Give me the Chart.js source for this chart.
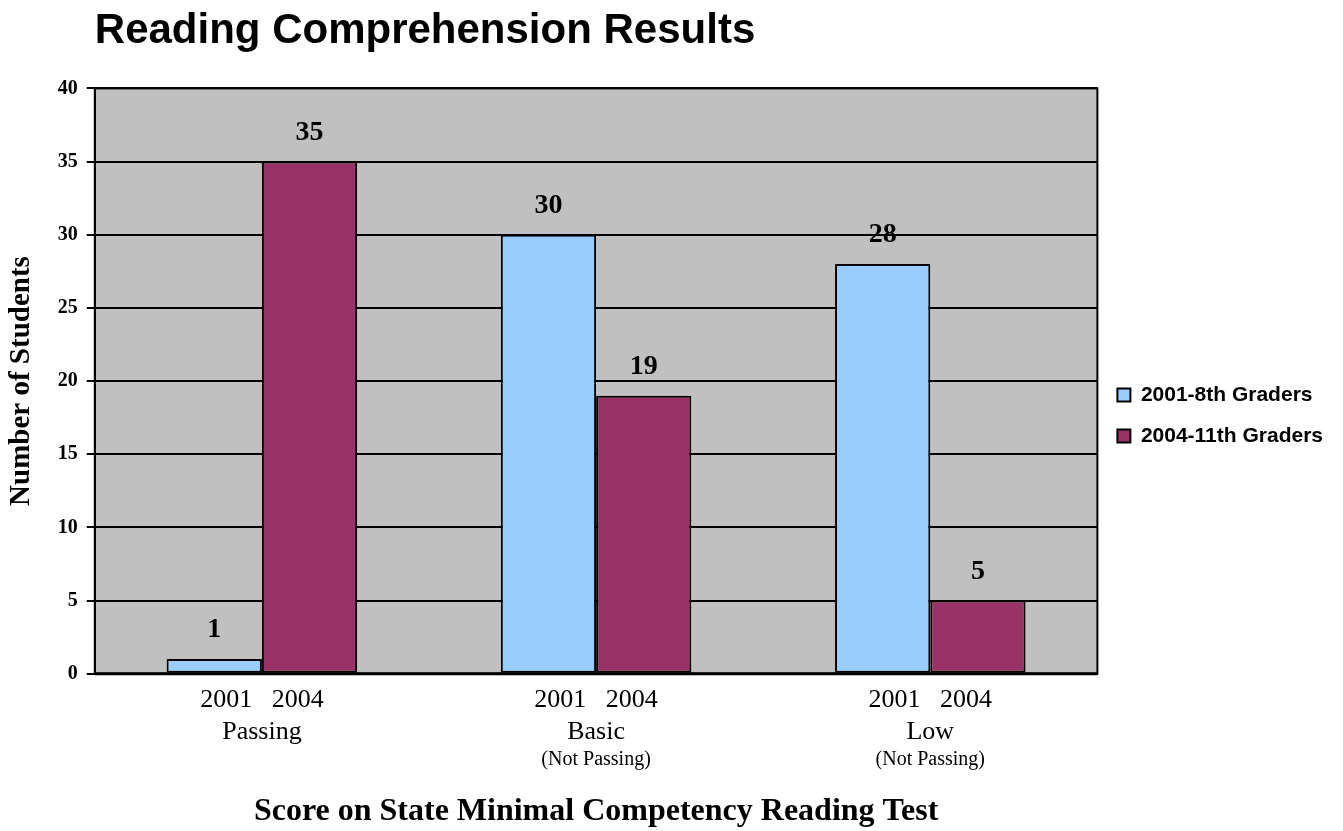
<!DOCTYPE html>
<html>
<head>
<meta charset="utf-8">
<script src="https://cdn.jsdelivr.net/npm/chart.js@4/dist/chart.umd.min.js"></script>
<style>
  html, body { margin: 0; padding: 0; background: #fff; }
  #wrap { width: 1343px; height: 831px; }
</style>
</head>
<body>
<div id="wrap"><canvas id="chart"></canvas></div>
<script>
var categories = ['Passing', 'Basic', 'Low'];
var subLabels = ['', '(Not Passing)', '(Not Passing)'];
var yearLabel = '2001   2004';
var series2001 = [1, 30, 28];
var series2004 = [35, 19, 5];
var seriesNames = ['2001-8th Graders', '2004-11th Graders'];

var serif = '"Liberation Serif", "Times New Roman", serif';
var sans = 'Arial, "Liberation Sans", sans-serif';

// grey plot background + frame
var plotBox = {
  id: 'plotBox',
  beforeDraw: function(chart) {
    var a = chart.chartArea, ctx = chart.ctx;
    ctx.save();
    ctx.fillStyle = '#C0C0C0';
    ctx.fillRect(a.left, a.top, a.right - a.left, a.bottom - a.top);
    ctx.restore();
  },
  afterDraw: function(chart) {
    var a = chart.chartArea, ctx = chart.ctx;
    ctx.save();
    ctx.strokeStyle = '#000';
    ctx.lineWidth = 2;
    ctx.strokeRect(a.left, a.top, a.right - a.left, a.bottom - a.top);
    ctx.beginPath();
    ctx.lineWidth = 3;
    ctx.moveTo(a.left, a.bottom);
    ctx.lineTo(a.right, a.bottom);
    ctx.stroke();
    ctx.restore();
  }
};

// values over bars, and the small "(Not Passing)" lines
var barText = {
  id: 'barText',
  afterDatasetsDraw: function(chart) {
    var ctx = chart.ctx;
    ctx.save();
    ctx.font = 'bold 28px ' + serif;
    ctx.fillStyle = '#000';
    ctx.textAlign = 'center';
    ctx.textBaseline = 'middle';
    chart.data.datasets.forEach(function(ds, i) {
      chart.getDatasetMeta(i).data.forEach(function(bar, j) {
        ctx.fillText(ds.data[j], bar.x, bar.y - 29);
      });
    });
    var x = chart.scales.x;
    ctx.font = '20px ' + serif;
    subLabels.forEach(function(s, j) {
      ctx.fillText(s, x.getPixelForTick(j), chart.chartArea.bottom + 86);
    });
    ctx.restore();
  }
};

new Chart(document.getElementById('chart'), {
  type: 'bar',
  data: {
    labels: categories,
    datasets: [{
      label: seriesNames[0],
      data: series2001,
      backgroundColor: '#99CCFF',
      borderColor: '#000',
      borderWidth: 2,
      borderSkipped: false
    }, {
      label: seriesNames[1],
      data: series2004,
      backgroundColor: '#993366',
      borderColor: '#000',
      borderWidth: 2,
      borderSkipped: false
    }]
  },
  options: {
    responsive: true,
    maintainAspectRatio: false,
    animation: false,
    layout: { padding: { left: 4, right: 10, top: 0, bottom: 0 } },
    datasets: { bar: { categoryPercentage: 0.57, barPercentage: 1 } },
    plugins: {
      title: {
        display: true,
        text: 'Reading Comprehension Results',
        align: 'start',
        fullSize: false,
        color: '#000',
        font: { family: sans, size: 42, weight: 'bold', lineHeight: 1.2 },
        padding: { top: 6, bottom: 32 }
      },
      legend: {
        position: 'right',
        labels: {
          color: '#000',
          boxWidth: 13,
          boxHeight: 13,
          padding: 20,
          font: { family: sans, size: 21, weight: 'bold' },
          generateLabels: function(chart) {
            return chart.data.datasets.map(function(ds, i) {
              return {
                text: ds.label,
                fillStyle: ds.backgroundColor,
                strokeStyle: '#000',
                lineWidth: 2,
                datasetIndex: i
              };
            });
          }
        }
      },
      tooltip: { enabled: false }
    },
    scales: {
      x: {
        grid: { display: false },
        border: { display: false },
        ticks: {
          color: '#000',
          font: { family: serif, size: 26, lineHeight: 1.23 },
          padding: 3,
          maxRotation: 0,
          callback: function(v, i) { return [yearLabel, categories[i], ' ']; }
        },
        title: {
          display: true,
          text: 'Score on State Minimal Competency Reading Test',
          color: '#000',
          font: { family: serif, size: 32, weight: 'bold', lineHeight: 1.2 },
          padding: { top: 9, bottom: 0 }
        }
      },
      y: {
        min: 0,
        max: 40,
        ticks: {
          stepSize: 5,
          color: '#000',
          padding: 9,
          font: { family: serif, size: 20, weight: 'bold' }
        },
        grid: { color: '#000', lineWidth: 2, tickLength: 8 },
        border: { color: '#000', width: 2 },
        title: {
          display: true,
          text: 'Number of Students',
          color: '#000',
          font: { family: serif, size: 29, weight: 'bold', lineHeight: 1.2 },
          padding: { top: 0, bottom: 10 }
        }
      }
    }
  },
  plugins: [plotBox, barText]
});
</script>
</body>
</html>
